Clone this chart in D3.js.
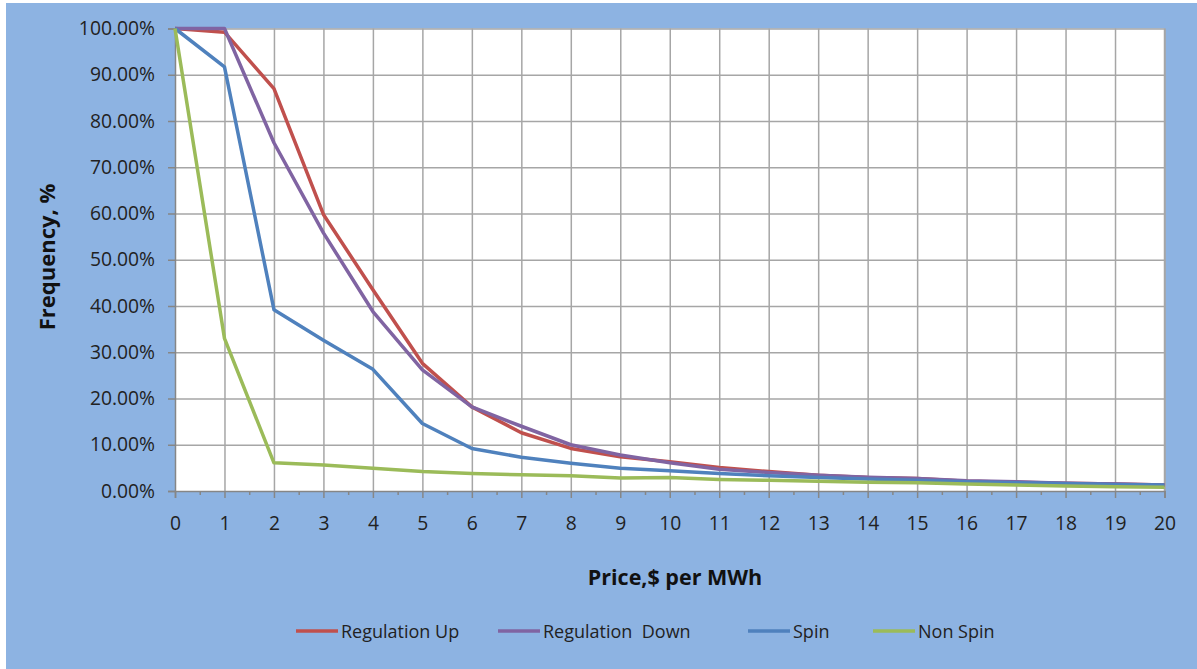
<!DOCTYPE html>
<html><head><meta charset="utf-8">
<script src="https://cdn.jsdelivr.net/npm/d3@7"></script>
<style>
html,body{margin:0;padding:0;background:#fff;}
svg{display:block;font-family:"Open Sans",Lato,sans-serif;}
</style></head>
<body>
<svg id="chart" width="1197" height="669"></svg>
<script>
const prices = [0,1,2,3,4,5,6,7,8,9,10,11,12,13,14,15,16,17,18,19,20];
const regulationUp   = [100,99.2,87.0,59.8,43.5,27.6,18.2,12.6,9.2,7.4,6.3,5.1,4.2,3.4,2.9,2.7,2.1,1.9,1.7,1.5,1.3];
const regulationDown = [100,100,75.3,55.8,38.8,26.2,18.2,14.0,10.0,7.8,6.1,4.7,4.0,3.4,3.0,2.7,2.2,2.0,1.7,1.5,1.3];
const spin           = [100,91.7,39.2,32.6,26.3,14.6,9.2,7.3,6.0,4.9,4.4,3.8,3.3,2.9,2.6,2.3,2.0,1.8,1.6,1.4,1.3];
const nonSpin        = [100,33.0,6.1,5.6,4.9,4.2,3.8,3.5,3.3,2.8,2.9,2.5,2.3,2.1,1.9,1.8,1.5,1.3,1.1,0.9,0.8];
const yTicks = [0,10,20,30,40,50,60,70,80,90,100];
const seriesNames = ["Regulation Up","Regulation  Down","Spin","Non Spin"];
const seriesColors = ["#C0504D","#8064A2","#4F81BD","#9BBB59"];
const seriesData = [regulationUp, regulationDown, spin, nonSpin];

const svg = d3.select("#chart");
const W = 1197, H = 669;
const FONT = "'Open Sans',Lato,sans-serif";
svg.append("rect").attr("x",6).attr("y",3).attr("width",W-6).attr("height",H-3).attr("fill","#8DB3E2");

const x = d3.scaleLinear().domain([0,20]).range([175,1164.5]);
const y = d3.scaleLinear().domain([0,100]).range([491,28.5]);

svg.append("rect").attr("x",x(0)).attr("y",y(100)).attr("width",x(20)-x(0)).attr("height",y(0)-y(100)).attr("fill","#fff");

svg.append("g").attr("transform",`translate(0,${y(100)})`)
  .call(d3.axisBottom(x).tickValues(prices.slice(1)).tickSize(y(0)-y(100)).tickFormat(""))
  .call(g=>g.select(".domain").remove())
  .call(g=>g.selectAll("line").attr("stroke","#a6a6a6").attr("stroke-width",1.5));
svg.append("g").attr("transform",`translate(${x(0)},0)`)
  .call(d3.axisRight(y).tickValues(yTicks.slice(1)).tickSize(x(20)-x(0)).tickFormat(""))
  .call(g=>g.select(".domain").remove())
  .call(g=>g.selectAll("line").attr("stroke","#a6a6a6").attr("stroke-width",1.5));
svg.append("line").attr("x1",x(20)).attr("x2",x(20)).attr("y1",y(100)).attr("y2",y(0)).attr("stroke","#a6a6a6").attr("stroke-width",1.5);

const yAxis = svg.append("g").attr("transform",`translate(${x(0)},0)`)
  .call(d3.axisLeft(y).tickValues(yTicks).tickSize(7).tickPadding(13).tickFormat(d=>d.toFixed(2)+"%"));
yAxis.select(".domain").attr("stroke","#868686").attr("stroke-width",1.5);
yAxis.selectAll("line").attr("stroke","#868686").attr("stroke-width",1.5);
yAxis.selectAll("text").attr("font-size",19.3).attr("fill","#222").attr("font-family",FONT);

const minor = d3.range(0.5,20,1);
svg.append("g").attr("transform",`translate(0,${y(0)})`)
  .call(d3.axisBottom(x).tickValues(minor).tickSize(4).tickFormat(""))
  .call(g=>g.select(".domain").remove())
  .call(g=>g.selectAll("line").attr("stroke","#868686").attr("stroke-width",1.5));
const xAxis = svg.append("g").attr("transform",`translate(0,${y(0)})`)
  .call(d3.axisBottom(x).tickValues(prices).tickSize(7).tickPadding(18).tickFormat(d3.format("d")));
xAxis.select(".domain").attr("stroke","#868686").attr("stroke-width",1.5);
xAxis.selectAll("line").attr("stroke","#868686").attr("stroke-width",1.5);
xAxis.selectAll("text").attr("font-size",19.3).attr("fill","#222").attr("font-family",FONT);

const line = d3.line().x((d,i)=>x(prices[i])).y(d=>y(d));
seriesData.forEach((s,i)=>{
  svg.append("path").datum(s).attr("d",line).attr("fill","none")
    .attr("stroke",seriesColors[i]).attr("stroke-width",3.5).attr("stroke-linejoin","round");
});

svg.append("text").attr("x",675).attr("y",585).attr("text-anchor","middle")
  .attr("font-size",21.5).attr("font-weight","bold").attr("fill","#111").text("Price,$ per MWh");
svg.append("text").attr("transform","translate(55,257) rotate(-90)").attr("text-anchor","middle")
  .attr("font-size",22).attr("font-weight","bold").attr("fill","#111").text("Frequency, %");

const legX = [296,498,748,873];
seriesNames.forEach((n,i)=>{
  svg.append("line").attr("x1",legX[i]).attr("x2",legX[i]+42).attr("y1",631).attr("y2",631)
    .attr("stroke",seriesColors[i]).attr("stroke-width",3.5);
  svg.append("text").attr("x",legX[i]+45).attr("y",637.5).attr("font-size",18).attr("fill","#222")
    .attr("xml:space","preserve").style("white-space","pre").text(n);
});
</script>
</body></html>
